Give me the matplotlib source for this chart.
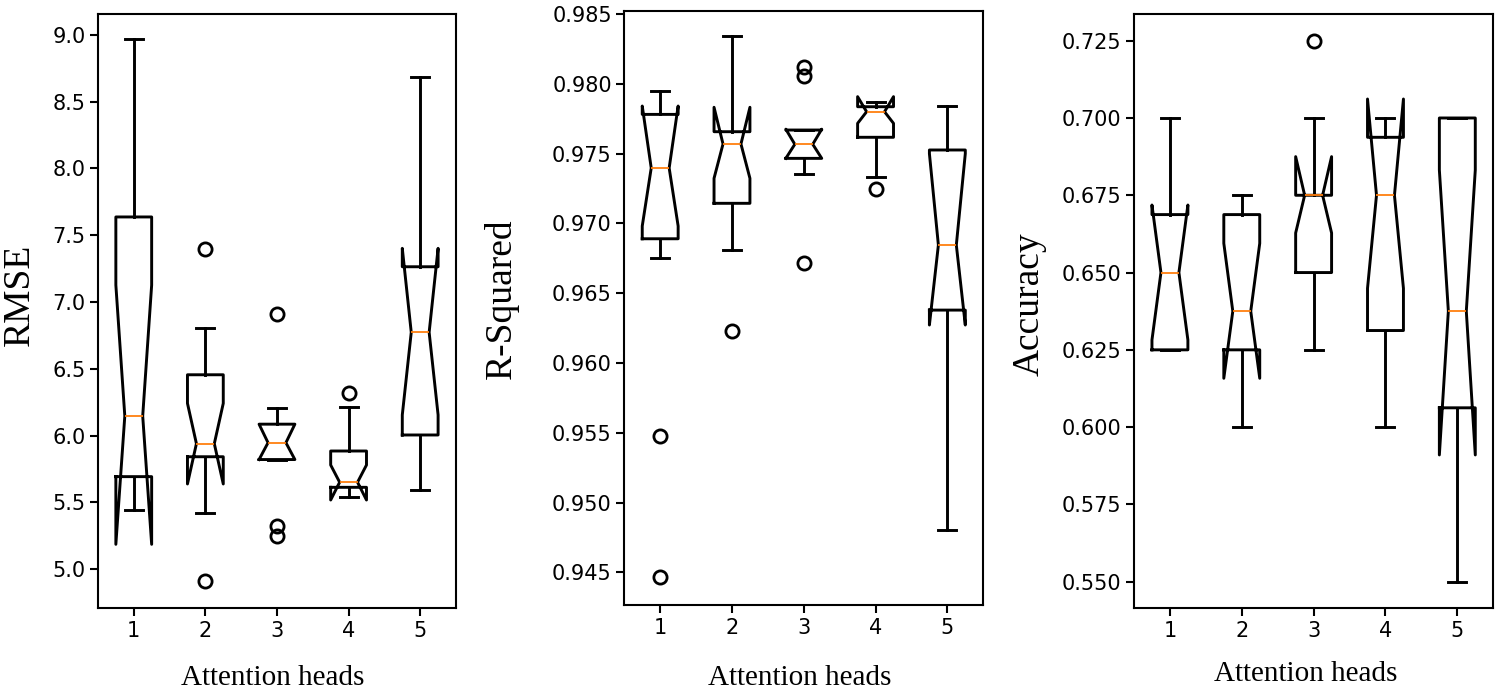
import matplotlib
matplotlib.use('Agg')
import matplotlib.pyplot as plt
from matplotlib.ticker import MultipleLocator, FormatStrFormatter

heads = [1, 2, 3, 4, 5]

# RMSE boxes
rmse_med = [6.146, 5.939, 5.946, 5.650, 6.773]
rmse_q1 = [5.692, 5.841, 5.820, 5.612, 6.004]
rmse_q3 = [7.637, 6.455, 6.085, 5.884, 7.264]
rmse_lo = [5.442, 5.422, 5.815, 5.542, 5.592]
rmse_hi = [8.968, 6.808, 6.204, 6.216, 8.688]
rmse_cilo = [5.185, 5.637, 5.820, 5.517, 6.154]
rmse_cihi = [7.127, 6.241, 6.085, 5.779, 7.402]
rmse_fliers = [[], [7.397, 4.912], [6.908, 5.325, 5.247], [6.316], []]

# R-Squared boxes
r2_med = [0.97397, 0.97569, 0.97567, 0.97800, 0.96845]
r2_q1 = [0.96890, 0.97144, 0.97466, 0.97617, 0.96379]
r2_q3 = [0.97781, 0.97657, 0.97669, 0.97836, 0.97526]
r2_lo = [0.96754, 0.96809, 0.97352, 0.97330, 0.94803]
r2_hi = [0.97951, 0.98342, 0.97669, 0.97872, 0.97843]
r2_cilo = [0.96981, 0.97323, 0.97466, 0.97717, 0.96272]
r2_cihi = [0.97841, 0.97832, 0.97675, 0.97908, 0.97500]
r2_fliers = [[0.95479, 0.94464], [0.96229], [0.98122, 0.98056, 0.96714], [0.97246], []]

# Accuracy boxes
acc_med = [0.650, 0.6375, 0.675, 0.675, 0.6375]
acc_q1 = [0.625, 0.625, 0.650, 0.63125, 0.60625]
acc_q3 = [0.66875, 0.66875, 0.675, 0.69375, 0.700]
acc_lo = [0.625, 0.600, 0.625, 0.600, 0.550]
acc_hi = [0.700, 0.675, 0.700, 0.700, 0.700]
acc_cilo = [0.6282, 0.6158, 0.6628, 0.6449, 0.5910]
acc_cihi = [0.67185, 0.65946, 0.6875, 0.70614, 0.68317]
acc_fliers = [[], [], [0.725], [], []]


def make_stats(med, q1, q3, lo, hi, cilo, cihi, fliers):
    stats = []
    for i in range(len(med)):
        stats.append({'med': med[i], 'q1': q1[i], 'q3': q3[i],
                      'whislo': lo[i], 'whishi': hi[i],
                      'cilo': cilo[i], 'cihi': cihi[i],
                      'fliers': fliers[i]})
    return stats


fig = plt.figure(figsize=(15, 6.94), dpi=100)

panels = [
    (make_stats(rmse_med, rmse_q1, rmse_q3, rmse_lo, rmse_hi, rmse_cilo, rmse_cihi, rmse_fliers),
     'RMSE', [0.0653, 0.1239, 0.2387, 0.8559], (4.708, 9.157), 0.5, '%.1f', (-0.218, 0.527), (0.487, -0.118)),
    (make_stats(r2_med, r2_q1, r2_q3, r2_lo, r2_hi, r2_cilo, r2_cihi, r2_fliers),
     'R-Squared', [0.4162, 0.1282, 0.2393, 0.8564], (0.94266, 0.98524), 0.005, '%.3f', (-0.343, 0.515), (0.49, -0.122)),
    (make_stats(acc_med, acc_q1, acc_q3, acc_lo, acc_hi, acc_cilo, acc_cihi, acc_fliers),
     'Accuracy', [0.756, 0.1235, 0.2395, 0.8559], (0.5414, 0.73354), 0.025, '%.3f', (-0.292, 0.512), (0.477, -0.111)),
]

line = dict(color='black', linewidth=2.1)
for stats, ylabel, rect, ylim, step, fmt, ypos, xpos in panels:
    ax = fig.add_axes(rect)
    ax.bxp(stats, positions=heads, widths=0.5, shownotches=True,
           boxprops=line, whiskerprops=line, capprops=line,
           medianprops=dict(color='#ff7f0e', linewidth=1.3),
           flierprops=dict(marker='o', markerfacecolor='none', markeredgecolor='black',
                           markersize=9.5, markeredgewidth=2))
    ax.set_xlim(0.5, 5.5)
    ax.set_ylim(*ylim)
    ax.set_xticks(heads)
    ax.set_xticklabels([str(h) for h in heads])
    ax.yaxis.set_major_locator(MultipleLocator(step))
    ax.yaxis.set_major_formatter(FormatStrFormatter(fmt))
    for sp in ax.spines.values():
        sp.set_linewidth(1.5)
    ax.tick_params(direction='out', length=5.5, width=1.5, labelsize=15)
    ax.set_ylabel(ylabel, fontfamily='Liberation Serif', fontsize=27, va='center')
    ax.yaxis.set_label_coords(*ypos)
    ax.set_xlabel('Attention heads', fontfamily='Liberation Serif', fontsize=21, va='center')
    ax.xaxis.set_label_coords(*xpos)

plt.savefig('out.png', dpi=100)
plt.close()
